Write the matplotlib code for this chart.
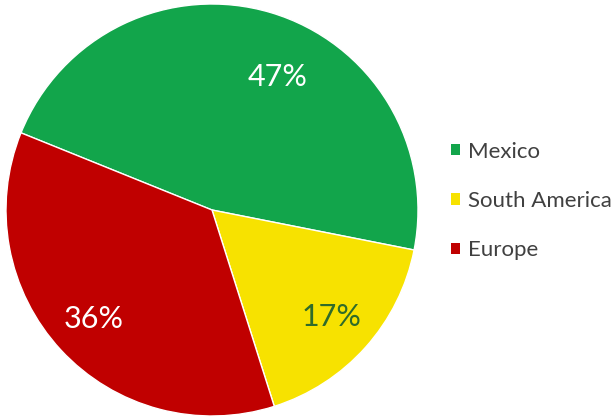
import numpy as np
import matplotlib
matplotlib.use("Agg")
import matplotlib.pyplot as plt
from matplotlib.patches import Patch

regions = ["Mexico", "South America", "Europe"]
shares = [47, 17, 36]
colors = ["#12A54B", "#F7E200", "#C00000"]
label_colors = ["white", "#2F6B2A", "white"]

plt.rcParams["font.family"] = ["Lato", "DejaVu Sans"]

fig = plt.figure(figsize=(6.16, 4.17), dpi=100)
W, H = 616, 417
cx, cy, r = 212, 210, 206
ax = fig.add_axes([(cx - r) / W, (H - cy - r) / H, 2 * r / W, 2 * r / H])

start = 158
wedges, texts, autotexts = ax.pie(
    shares, colors=colors, startangle=start, counterclock=False,
    autopct=lambda p: f"{p:.0f}%", pctdistance=0.78,
    wedgeprops=dict(edgecolor="white", linewidth=1.0),
    textprops=dict(fontsize=22),
)
for t, c in zip(autotexts, label_colors):
    t.set_color(c)

# nudge the large-slice label toward the right, as a best-fit placement
ang = np.deg2rad(63.6)
autotexts[0].set_position((0.72 * np.cos(ang), 0.72 * np.sin(ang)))

ax.set_xlim(-1, 1)
ax.set_ylim(-1, 1)
ax.set_aspect("equal")
ax.axis("off")

handles = [Patch(facecolor=c, edgecolor="none") for c in colors]
leg = fig.legend(handles, regions, loc="center left",
                 bbox_to_anchor=(451 / W, 1 - 201 / H), borderpad=0, borderaxespad=0,
                 frameon=False, fontsize=16, handlelength=0.4, handleheight=0.4,
                 handletextpad=0.35, labelspacing=1.32, labelcolor="#404040")

fig.savefig("out.png", dpi=100, facecolor="white")
